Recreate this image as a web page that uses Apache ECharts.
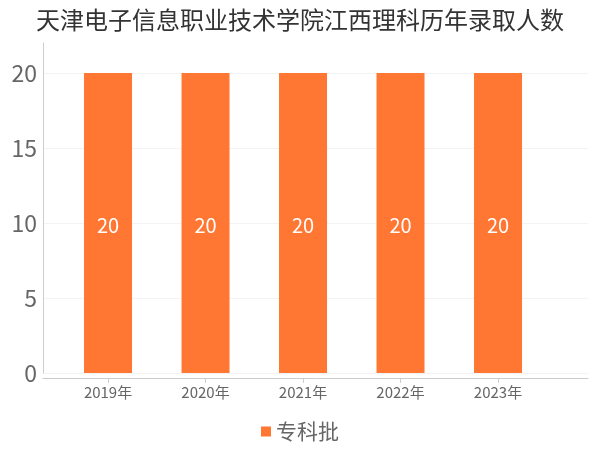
<!DOCTYPE html>
<html><head><meta charset="utf-8">
<script src="https://cdn.jsdelivr.net/npm/echarts@6/dist/echarts.min.js"></script>
<style>html,body{margin:0;padding:0;background:#fff}#c{width:600px;height:450px}</style>
</head><body><div id="c"></div>
<script>
const title = '天津电子信息职业技术学院江西理科历年录取人数';
const categories = ['2019年','2020年','2021年','2022年','2023年'];
const seriesName = '专科批';
const values = [20, 20, 20, 20, 20];
const yTicks = [0, 5, 10, 15, 20];

const font = '"Noto Sans CJK SC", "Noto Sans", sans-serif';
const idx = categories.map((c, i) => i);
const chart = echarts.init(document.getElementById('c'));
chart.setOption({
  animation: false,
  title: {text: title, left: 'center', top: 3, textStyle: {fontSize: 24, fontWeight: 'normal', color: '#333', fontFamily: font}},
  legend: {bottom: 3, left: 'center', icon: 'rect', itemWidth: 10, itemHeight: 10, itemGap: 6,
    textStyle: {fontSize: 21, color: '#666', fontFamily: font}, data: [seriesName]},
  grid: {left: 43, right: 12, top: 43, bottom: 77},
  xAxis: {type: 'value', min: -0.667, max: 4.923, offset: 5,
    axisLine: {show: true, onZero: false, lineStyle: {color: '#ccc'}},
    axisTick: {show: true, customValues: idx, length: 5, lineStyle: {color: '#ccc'}},
    axisLabel: {customValues: idx, formatter: v => categories[Math.round(v)] || '', fontSize: 15, color: '#666', margin: 7, fontFamily: font},
    splitLine: {show: false}},
  yAxis: {type: 'value', min: 0, max: 22, interval: 5,
    axisLine: {show: true, onZero: false, lineStyle: {color: '#ccc'}},
    axisTick: {show: false},
    axisLabel: {customValues: yTicks, fontSize: 23, color: '#666', margin: 6, fontFamily: font},
    splitLine: {show: true, showMaxLine: false, lineStyle: {color: '#f3f3f3'}}},
  series: [{name: seriesName, type: 'bar', barWidth: 48,
    data: values.map((v, i) => [idx[i], v]),
    itemStyle: {color: '#FF7733'},
    label: {show: true, position: 'inside', offset: [0, 2], color: '#fff', fontSize: 20, fontFamily: font}}]
});
</script></body></html>
